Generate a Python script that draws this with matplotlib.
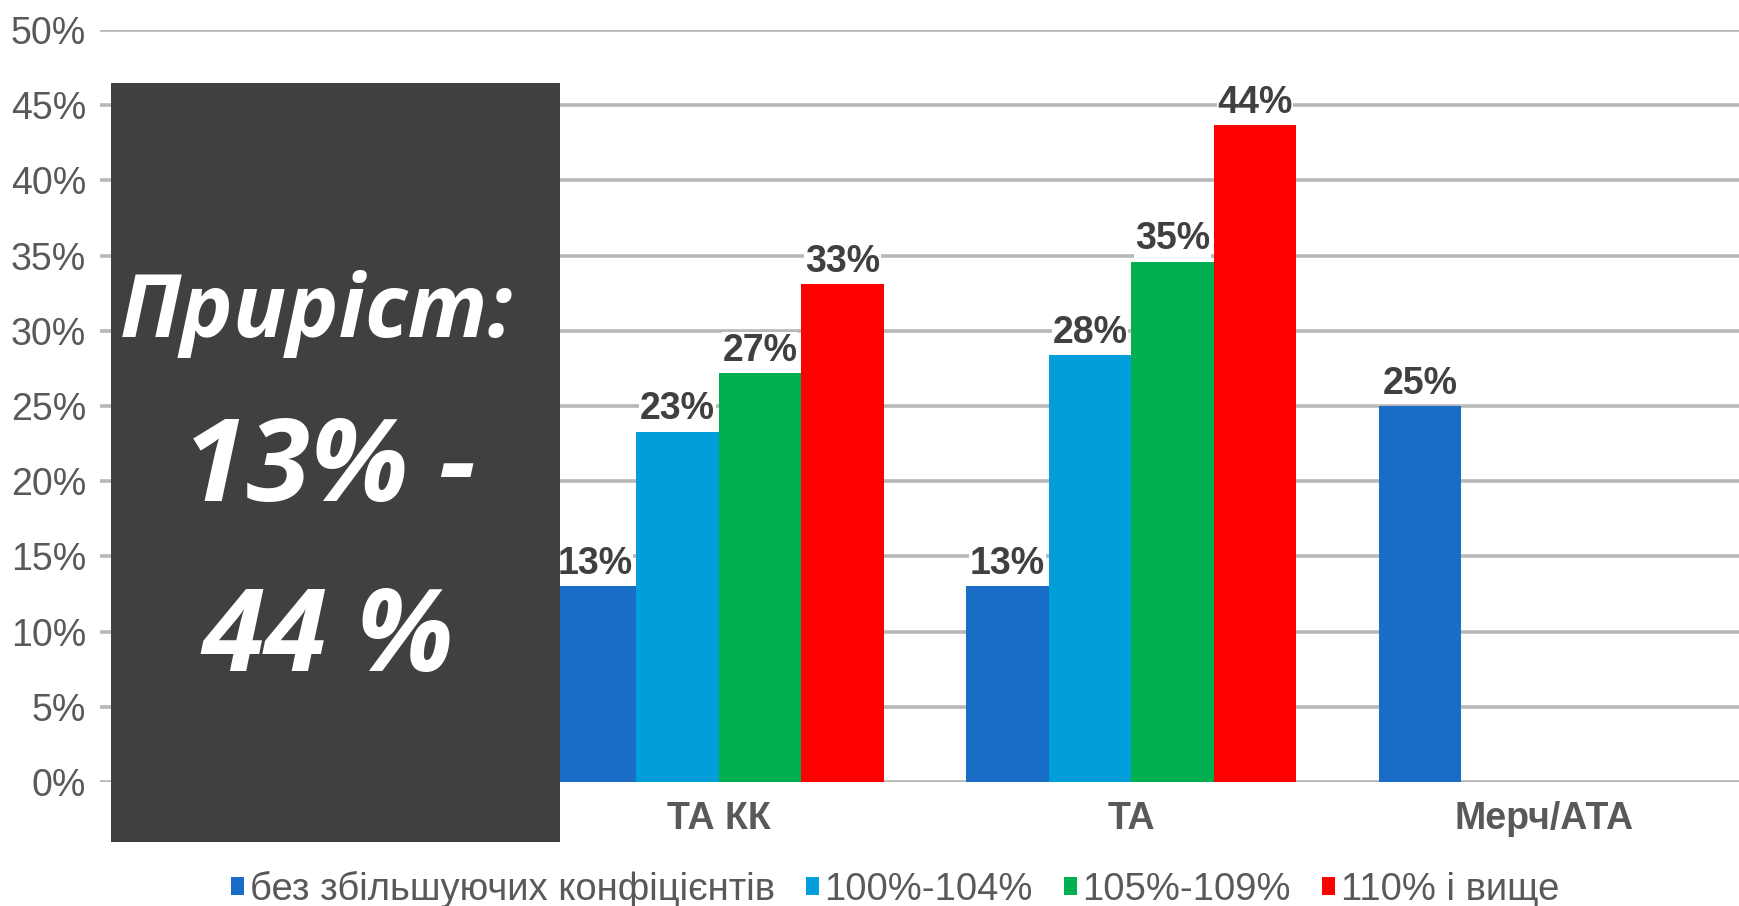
import numpy as np
import matplotlib
matplotlib.use("Agg")
import matplotlib.pyplot as plt
from matplotlib.patches import Rectangle, Patch

# ---------------- data ----------------
categories = ["", "ТА КК", "ТА", "Мерч/АТА"]
series_names = ["без збільшуючих конфіцієнтів", "100%-104%", "105%-109%", "110% і вище"]
s_base = [np.nan, 13.0, 13.0, 25.0]
s_100 = [np.nan, 23.3, 28.4, np.nan]
s_105 = [np.nan, 27.2, 34.6, np.nan]
s_110 = [np.nan, 33.1, 43.7, np.nan]
series_values = [s_base, s_100, s_105, s_110]
colors = ["#1A6DC6", "#009FDA", "#00AF50", "#FE0000"]
yticks = [0, 5, 10, 15, 20, 25, 30, 35, 40, 45, 50]
box_lines = ["Приріст:", "13% -", "44 %"]

plt.rcParams['font.family'] = ['Liberation Sans', 'DejaVu Sans']

W, H = 1739, 906
fig = plt.figure(figsize=(W / 100, H / 100), dpi=100)
ax = fig.add_axes([100 / W, 124 / H, 1650 / W, 752 / H])

x = np.arange(len(categories))
bw = 0.2
offsets = [-0.3, -0.1, 0.1, 0.3]
for vals, col, off, name in zip(series_values, colors, offsets, series_names):
    v = np.array(vals, dtype=float)
    ax.bar(x + off, v, width=bw, color=col, label=name, zorder=3)
    for xi, vi in zip(x, v):
        if np.isnan(vi):
            continue
        ax.annotate(f"{vi:.0f}%", (xi + off, vi), xytext=(0, 3),
                    textcoords="offset points", ha="center", va="bottom",
                    fontsize=27, fontweight="bold", color="#404040", zorder=4,
                    bbox=dict(boxstyle="square,pad=0.02", fc="white", ec="none"))

ax.set_xlim(-0.5, 3.5)
ax.set_ylim(0, 50)
ax.set_yticks(yticks)
ax.set_yticklabels([f"{t}%" for t in yticks], fontsize=27, color="#595959")
ax.set_xticks(x)
ax.set_xticklabels(categories, fontsize=27, fontweight="bold", color="#595959")
ax.tick_params(axis="y", length=0, pad=10)
ax.tick_params(axis="x", length=0, pad=14)
ax.yaxis.grid(True, color="#B8B8B8", lw=2.6)
ax.set_axisbelow(True)
for s in ax.spines.values():
    s.set_visible(False)

# dark overlay box
fig.add_artist(Rectangle((111 / W, 64 / H), 449 / W, 759 / H, transform=fig.transFigure,
                         facecolor="#404040", edgecolor="none", zorder=5))
box_font = ['Open Sans', 'DejaVu Sans']
fig.text(316 / W, 1 - 314 / H, box_lines[0], ha="center", va="center", color="white",
         fontsize=63.5, fontweight="bold", fontstyle="italic", family=box_font, zorder=6)
fig.text(329 / W, 1 - 471 / H, box_lines[1], ha="center", va="center", color="white",
         fontsize=83, fontweight="bold", fontstyle="italic", family=box_font, zorder=6)
fig.text(328 / W, 1 - 641 / H, box_lines[2], ha="center", va="center", color="white",
         fontsize=82, fontweight="bold", fontstyle="italic", family=box_font, zorder=6)

handles = [Patch(facecolor=c, edgecolor="none") for c in colors]
fig.legend(handles, series_names, loc="center", bbox_to_anchor=(895 / W, 17 / H), ncol=4,
           frameon=False, fontsize=27.5, handlelength=0.35, handleheight=0.35,
           handletextpad=0.15, columnspacing=0.8, labelcolor="#595959")

fig.savefig("out.png", dpi=100)
